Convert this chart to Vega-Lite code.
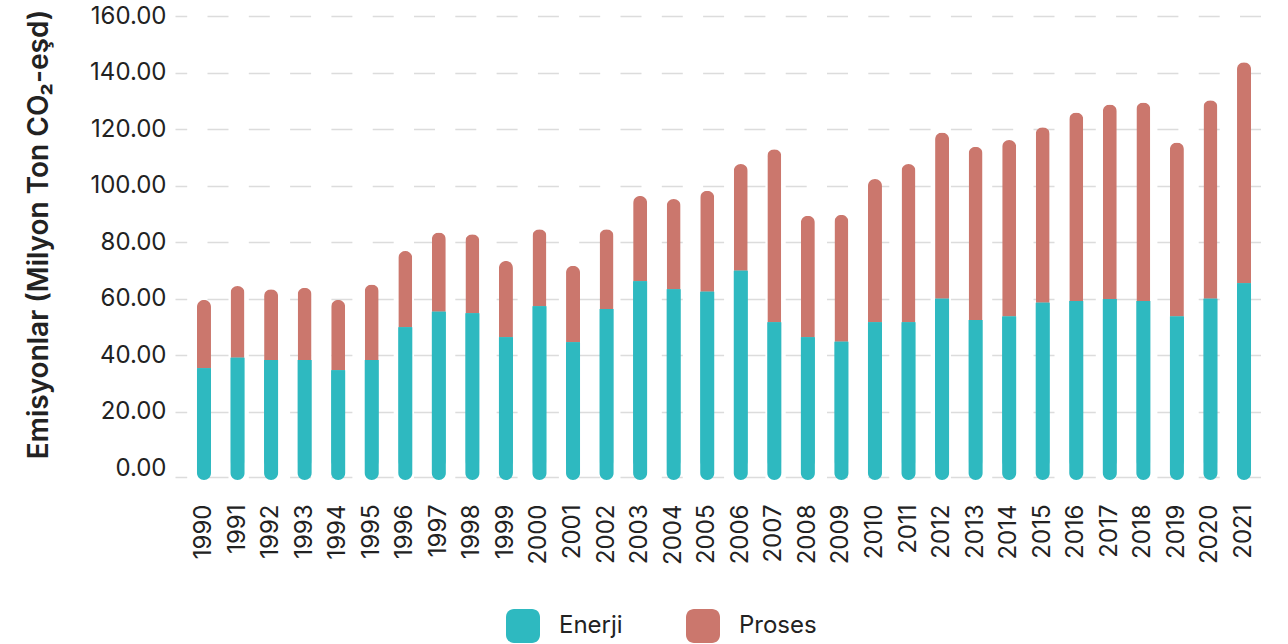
{
  "$schema": "https://vega.github.io/schema/vega-lite/v6.json",
  "width": 1098,
  "height": 452,
  "autosize": "none",
  "padding": {"left": 175, "top": 16, "right": 15, "bottom": 176},
  "background": "white",
  "data": {
    "values": [
      {"yil": "1990", "tur": "Proses", "deger": 24.2}, {"yil": "1990", "tur": "Enerji", "deger": 35.3},
      {"yil": "1991", "tur": "Proses", "deger": 25.4}, {"yil": "1991", "tur": "Enerji", "deger": 39.0},
      {"yil": "1992", "tur": "Proses", "deger": 25.1}, {"yil": "1992", "tur": "Enerji", "deger": 38.2},
      {"yil": "1993", "tur": "Proses", "deger": 25.6}, {"yil": "1993", "tur": "Enerji", "deger": 38.2},
      {"yil": "1994", "tur": "Proses", "deger": 24.9}, {"yil": "1994", "tur": "Enerji", "deger": 34.6},
      {"yil": "1995", "tur": "Proses", "deger": 26.8}, {"yil": "1995", "tur": "Enerji", "deger": 38.2},
      {"yil": "1996", "tur": "Proses", "deger": 27.0}, {"yil": "1996", "tur": "Enerji", "deger": 49.8},
      {"yil": "1997", "tur": "Proses", "deger": 28.1}, {"yil": "1997", "tur": "Enerji", "deger": 55.3},
      {"yil": "1998", "tur": "Proses", "deger": 27.9}, {"yil": "1998", "tur": "Enerji", "deger": 54.8},
      {"yil": "1999", "tur": "Proses", "deger": 27.0}, {"yil": "1999", "tur": "Enerji", "deger": 46.3},
      {"yil": "2000", "tur": "Proses", "deger": 27.2}, {"yil": "2000", "tur": "Enerji", "deger": 57.3},
      {"yil": "2001", "tur": "Proses", "deger": 27.1}, {"yil": "2001", "tur": "Enerji", "deger": 44.5},
      {"yil": "2002", "tur": "Proses", "deger": 28.2}, {"yil": "2002", "tur": "Enerji", "deger": 56.3},
      {"yil": "2003", "tur": "Proses", "deger": 30.2}, {"yil": "2003", "tur": "Enerji", "deger": 66.1},
      {"yil": "2004", "tur": "Proses", "deger": 31.9}, {"yil": "2004", "tur": "Enerji", "deger": 63.3},
      {"yil": "2005", "tur": "Proses", "deger": 35.7}, {"yil": "2005", "tur": "Enerji", "deger": 62.4},
      {"yil": "2006", "tur": "Proses", "deger": 37.8}, {"yil": "2006", "tur": "Enerji", "deger": 69.8},
      {"yil": "2007", "tur": "Proses", "deger": 61.2}, {"yil": "2007", "tur": "Enerji", "deger": 51.6},
      {"yil": "2008", "tur": "Proses", "deger": 43.0}, {"yil": "2008", "tur": "Enerji", "deger": 46.3},
      {"yil": "2009", "tur": "Proses", "deger": 44.9}, {"yil": "2009", "tur": "Enerji", "deger": 44.7},
      {"yil": "2010", "tur": "Proses", "deger": 50.7}, {"yil": "2010", "tur": "Enerji", "deger": 51.6},
      {"yil": "2011", "tur": "Proses", "deger": 56.0}, {"yil": "2011", "tur": "Enerji", "deger": 51.6},
      {"yil": "2012", "tur": "Proses", "deger": 58.9}, {"yil": "2012", "tur": "Enerji", "deger": 59.9},
      {"yil": "2013", "tur": "Proses", "deger": 61.3}, {"yil": "2013", "tur": "Enerji", "deger": 52.4},
      {"yil": "2014", "tur": "Proses", "deger": 62.5}, {"yil": "2014", "tur": "Enerji", "deger": 53.6},
      {"yil": "2015", "tur": "Proses", "deger": 62.1}, {"yil": "2015", "tur": "Enerji", "deger": 58.5},
      {"yil": "2016", "tur": "Proses", "deger": 66.7}, {"yil": "2016", "tur": "Enerji", "deger": 59.1},
      {"yil": "2017", "tur": "Proses", "deger": 68.9}, {"yil": "2017", "tur": "Enerji", "deger": 59.8},
      {"yil": "2018", "tur": "Proses", "deger": 70.3}, {"yil": "2018", "tur": "Enerji", "deger": 59.1},
      {"yil": "2019", "tur": "Proses", "deger": 61.6}, {"yil": "2019", "tur": "Enerji", "deger": 53.6},
      {"yil": "2020", "tur": "Proses", "deger": 70.3}, {"yil": "2020", "tur": "Enerji", "deger": 59.9},
      {"yil": "2021", "tur": "Proses", "deger": 78.2}, {"yil": "2021", "tur": "Enerji", "deger": 65.4}
    ]
  },
  "encoding": {
    "x": {
      "field": "yil",
      "type": "ordinal",
      "scale": {"paddingInner": 0, "paddingOuter": 0.364},
      "axis": {
        "title": null,
        "labelAngle": -90,
        "labelFontSize": 24,
        "labelPadding": 27,
        "offset": 9,
        "domain": true,
        "domainColor": "#dcdcdc",
        "domainWidth": 1.5,
        "domainDash": [21, 20.3],
        "domainDashOffset": 9.3
      }
    },
    "y": {
      "field": "deger",
      "type": "quantitative",
      "scale": {"domain": [0, 160], "nice": false},
      "axis": {
        "title": "Emisyonlar (Milyon Ton CO₂-eşd)",
        "values": [0, 20, 40, 60, 80, 100, 120, 140, 160],
        "format": ".2f",
        "labelFontSize": 24,
        "labelPadding": 9,
        "titleFontSize": 28,
        "titleFontWeight": 600,
        "titlePadding": 36,
        "titleY": 218,
        "grid": true,
        "gridColor": "#dcdcdc",
        "gridWidth": 1.5,
        "gridDash": [21, 20.3],
        "gridDashOffset": 9.3,
        "gridOpacity": {"condition": {"test": "datum.value === 0", "value": 0}, "value": 1}
      }
    },
    "color": {
      "field": "tur",
      "type": "nominal",
      "scale": {"domain": ["Enerji", "Proses"], "range": ["#2EB9C0", "#CB776D"]},
      "legend": {
        "title": null,
        "orient": "none",
        "direction": "horizontal",
        "legendX": 331,
        "legendY": 593,
        "padding": 0,
        "symbolType": "M-0.53,-1H0.53A0.47,0.47,0,0,1,1,-0.53V0.53A0.47,0.47,0,0,1,0.53,1H-0.53A0.47,0.47,0,0,1,-1,0.53V-0.53A0.47,0.47,0,0,1,-0.53,-1Z",
        "symbolSize": 1156,
        "symbolStrokeWidth": 0,
        "symbolOpacity": 1,
        "labelFontSize": 24,
        "labelOffset": 19,
        "columnPadding": 63
      }
    }
  },
  "layer": [
    {
      "mark": {"type": "bar", "width": 14, "cornerRadius": 7},
      "encoding": {
        "y": {"field": "deger", "type": "quantitative", "stack": "zero"},
        "order": {"field": "tur", "sort": "ascending"}
      }
    },
    {
      "transform": [{"filter": "datum.tur === 'Enerji'"}],
      "mark": {
        "type": "bar",
        "width": 14,
        "cornerRadiusBottomLeft": 7,
        "cornerRadiusBottomRight": 7,
        "y2Offset": 12
      },
      "encoding": {
        "y": {"field": "deger", "type": "quantitative", "stack": null},
        "y2": {"datum": 0}
      }
    }
  ],
  "config": {
    "font": "Inter",
    "view": {"stroke": null},
    "axis": {
      "domain": false,
      "ticks": false,
      "labelColor": "#222222",
      "titleColor": "#222222",
      "labelFont": "Inter",
      "titleFont": "Inter"
    },
    "legend": {"labelColor": "#222222", "labelFont": "Inter"}
  }
}
